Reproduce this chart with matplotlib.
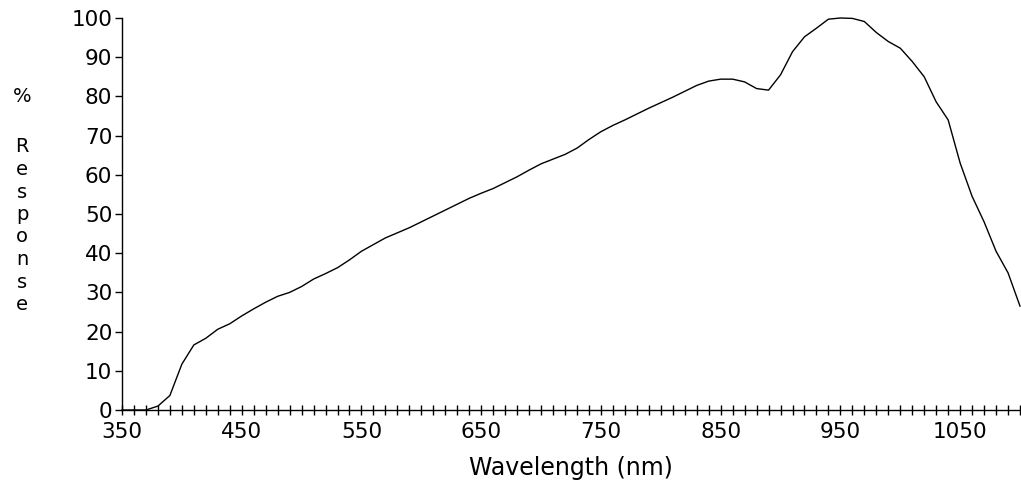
import matplotlib
matplotlib.use("Agg")
import matplotlib.pyplot as plt
from matplotlib.ticker import MultipleLocator, FixedLocator

wavelength = list(range(350, 1101, 10))
response = [0, 0, 0, 1, 3.7, 11.7, 16.6, 18.3, 20.6, 22,
            24, 25.8, 27.5, 29, 30, 31.5, 33.4, 34.8, 36.3, 38.3,
            40.5, 42.2, 43.9, 45.2, 46.5, 48, 49.5, 51, 52.5, 54,
            55.3, 56.5, 58, 59.5, 61.2, 62.8, 64, 65.2, 66.8, 69,
            71, 72.6, 74, 75.5, 77, 78.4, 79.8, 81.3, 82.8, 83.9,
            84.4, 84.4, 83.7, 82, 81.6, 85.5, 91.4, 95.2, 97.4, 99.7,
            100, 99.9, 99.1, 96.3, 94, 92.3, 88.9, 85, 78.6, 74,
            63, 54.5, 48, 40.5, 35, 26.5]

x_major = [350, 450, 550, 650, 750, 850, 950, 1050]
y_major = list(range(0, 101, 10))
xlabel = "Wavelength (nm)"
ylabel_letters = ["%", "", "R", "e", "s", "p", "o", "n", "s", "e"]

plt.rcParams['font.family'] = ['DejaVu Sans']

fig = plt.figure(figsize=(10.21, 4.91), dpi=100)
ax = fig.add_axes([122/1021, 1 - 410/491, (1020-122)/1021, (410-18)/491])
ax.plot(wavelength, response, color='black', lw=1.0, clip_on=False)
ax.set_xlim(350, 1100)
ax.set_ylim(0, 100)
ax.spines['top'].set_visible(False)
ax.spines['right'].set_visible(False)
ax.spines['left'].set_linewidth(1.0)
ax.spines['bottom'].set_linewidth(1.0)

ax.xaxis.set_major_locator(FixedLocator(x_major))
ax.xaxis.set_minor_locator(MultipleLocator(10))
ax.yaxis.set_major_locator(FixedLocator(y_major))
ax.tick_params(axis='x', which='both', direction='inout', length=7, width=1, labelsize=15.5, pad=5)
ax.tick_params(axis='y', which='major', direction='out', length=5, width=1, labelsize=15.5, pad=2)
ax.set_xlabel(xlabel, fontsize=17, labelpad=10)

# stacked y label
y0 = 97
step = 22.5
for i, ch in enumerate(ylabel_letters):
    if ch:
        ypix = y0 + (i * step if i < 2 else 50 + (i - 2) * step)
        fig.text(22/1021, 1 - ypix/491, ch, fontsize=14, ha='center', va='center')

fig.savefig("out.png", dpi=100)
